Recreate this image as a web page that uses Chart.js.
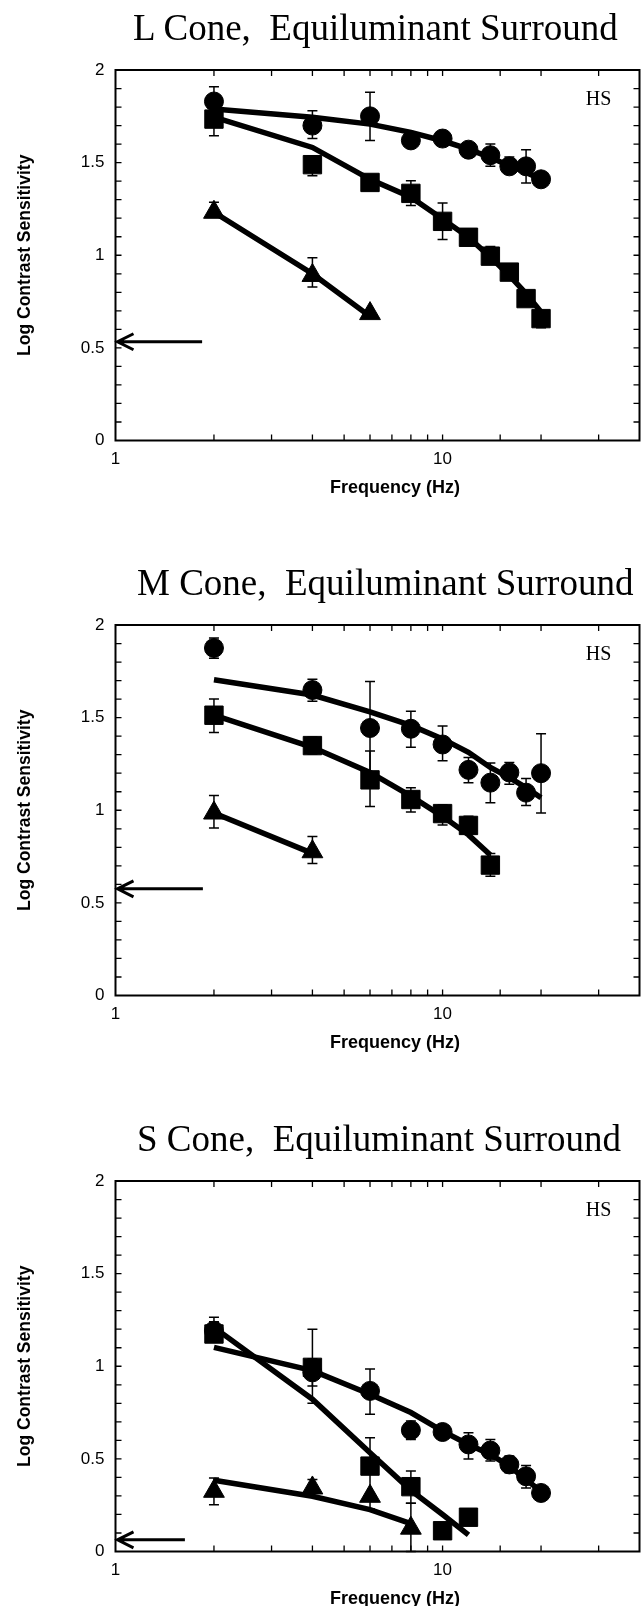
<!DOCTYPE html>
<html>
<head>
<meta charset="utf-8">
<script src="https://cdn.jsdelivr.net/npm/chart.js@4/dist/chart.umd.min.js"></script>
<style>
  body { margin: 0; background: #fff; width: 641px; height: 1606px; position: relative; overflow: hidden; }
  .panel { position: absolute; left: 0; width: 641px; height: 497px; }
  .ttl { position: absolute; top: 7px; white-space: pre;
         font-family: "Liberation Serif", "Times New Roman", serif; font-size: 37px; line-height: 42px; color: #000; }
  .xt { position: absolute; top: 477px; left: 395px; transform: translateX(-50%); white-space: pre;
        font-family: "Liberation Sans", Arial, sans-serif; font-weight: bold; font-size: 18px; line-height: 20px; color: #000; }
</style>
</head>
<body>
<div class="panel" style="top:0px">
  <div class="ttl" style="left:133px">L Cone,  Equiluminant Surround</div>
  <canvas id="cL" width="641" height="497"></canvas>
  <div class="xt">Frequency (Hz)</div>
</div>
<div class="panel" style="top:555px">
  <div class="ttl" style="left:137px">M Cone,  Equiluminant Surround</div>
  <canvas id="cM" width="641" height="497"></canvas>
  <div class="xt">Frequency (Hz)</div>
</div>
<div class="panel" style="top:1111px">
  <div class="ttl" style="left:137px">S Cone,  Equiluminant Surround</div>
  <canvas id="cS" width="641" height="497"></canvas>
  <div class="xt">Frequency (Hz)</div>
</div>
<script>
// 周波数 (Hz)
const FREQ = [2, 4, 6, 8, 10, 12, 14, 16, 18, 20];

// L cone
const L_CIRC     = [1.83, 1.70, 1.75, 1.62, 1.63, 1.57, 1.54, 1.48, 1.48, 1.41];
const L_CIRC_LO  = [1.77, 1.63, 1.62, 1.58, null, null, 1.48, 1.44, 1.39, null];
const L_CIRC_HI  = [1.91, 1.78, 1.88, 1.66, null, null, 1.60, 1.53, 1.57, null];
const L_CIRC_FIT = [1.79, 1.745, 1.708, 1.663, 1.618, 1.573, 1.528, 1.483, 1.447, 1.41];
const L_SQ       = [1.735, 1.489, 1.393, 1.334, 1.183, 1.097, 0.995, 0.909, 0.766, 0.658];
const L_SQ_LO    = [1.645, 1.429, null, 1.268, 1.085, null, null, null, null, 0.609];
const L_SQ_HI    = [null, 1.537, null, 1.402, 1.282, null, 1.047, null, null, null];
const L_SQ_FIT   = [1.745, 1.582, 1.41, 1.313, 1.196, 1.097, 0.99, 0.891, 0.793, 0.694];
const L_TRI_F    = [2, 4, 6];
const L_TRI      = [1.232, 0.891, 0.685];
const L_TRI_LO   = [null, 0.828, null];
const L_TRI_HI   = [1.286, 0.986, null];
const L_TRI_FIT  = [1.232, 0.90, 0.67];

// M cone
const M_CIRC     = [1.876, 1.649, 1.444, 1.44, 1.355, 1.218, 1.149, 1.204, 1.095, 1.20];
const M_CIRC_LO  = [1.82, 1.589, 1.185, 1.34, 1.267, 1.149, 1.04, 1.14, 1.025, 0.985];
const M_CIRC_HI  = [1.93, 1.707, 1.695, 1.535, 1.455, 1.285, 1.255, 1.258, 1.171, 1.413];
const M_CIRC_FIT = [1.704, 1.622, 1.531, 1.458, 1.385, 1.313, 1.231, 1.176, 1.122, 1.067];
const M_SQ_F     = [2, 4, 6, 8, 10, 12, 14];
const M_SQ       = [1.513, 1.349, 1.164, 1.058, 0.982, 0.918, 0.704];
const M_SQ_LO    = [1.42, 1.304, 1.02, 0.99, 0.92, null, 0.644];
const M_SQ_HI    = [1.60, 1.395, 1.32, 1.122, 1.03, 0.967, 0.767];
const M_SQ_FIT   = [1.513, 1.34, 1.204, 1.076, 0.967, 0.867, 0.758];
const M_TRI_F    = [2, 4];
const M_TRI      = [0.985, 0.776];
const M_TRI_LO   = [0.904, 0.713];
const M_TRI_HI   = [1.08, 0.858];
const M_TRI_FIT  = [0.985, 0.767];

// S cone
const S_CIRC     = [1.192, 0.967, 0.867, 0.655, 0.645, 0.578, 0.545, 0.47, 0.406, 0.316];
const S_CIRC_LO  = [1.138, 0.894, 0.741, 0.604, null, 0.50, 0.488, 0.425, 0.343, null];
const S_CIRC_HI  = [1.265, 1.04, 0.985, 0.705, null, 0.641, 0.605, 0.515, 0.464, null];
const S_CIRC_FIT = [1.102, 0.976, 0.849, 0.75, 0.65, 0.578, 0.524, 0.461, 0.388, 0.325];
const S_SQ_F     = [2, 4, 6, 8, 10, 12];
const S_SQ       = [1.174, 0.994, 0.461, 0.35, 0.112, 0.185];
const S_SQ_LO    = [null, 0.80, 0.316, 0.26, null, null];
const S_SQ_HI    = [1.24, 1.20, 0.614, 0.434, null, null];
const S_SQ_FIT   = [1.21, 0.822, 0.533, 0.33, 0.2, 0.09];
const S_TRI_F    = [2, 4, 6, 8];
const S_TRI      = [0.325, 0.343, 0.298, 0.126];
const S_TRI_LO   = [0.253, null, 0.23, 0.0];
const S_TRI_HI   = [0.397, 0.388, null, 0.26];
const S_TRI_FIT  = [0.385, 0.298, 0.226, 0.15];

// 左の矢印 [y値, 始点の周波数]
const L_ARROW = [0.533, 1.84];
const M_ARROW = [0.576, 1.85];
const S_ARROW = [0.063, 1.63];

const X_MIN = 1, X_MAX = 40, Y_MIN = 0, Y_MAX = 2;
const SANS = '"Liberation Sans", Arial, sans-serif';

function pts(xs, ys) {
  return xs.map((x, i) => ({x: x, y: ys[i]}));
}

// 枠・内向きの目盛・誤差棒・矢印・HS を描くプラグイン
const framePlugin = {
  id: 'frame',
  beforeDatasetsDraw(chart) {
    const {ctx, scales: {x, y}} = chart;
    ctx.save();
    ctx.strokeStyle = '#000';
    ctx.lineWidth = 1.5;
    chart.data.datasets.forEach(ds => {
      if (!ds.errHi) return;
      ds.data.forEach((p, i) => {
        const lo = ds.errLo[i], hi = ds.errHi[i];
        if (lo === null && hi === null) return;
        const px = x.getPixelForValue(p.x);
        ctx.beginPath();
        ctx.moveTo(px, y.getPixelForValue(hi === null ? p.y : hi));
        ctx.lineTo(px, y.getPixelForValue(lo === null ? p.y : lo));
        [lo, hi].forEach(v => {
          if (v === null) return;
          const py = y.getPixelForValue(v);
          ctx.moveTo(px - 5, py);
          ctx.lineTo(px + 5, py);
        });
        ctx.stroke();
      });
    });
    ctx.restore();
  },
  afterDraw(chart, args, opts) {
    const {ctx, chartArea: a, scales: {x, y}} = chart;
    ctx.save();
    ctx.strokeStyle = '#000';
    ctx.lineWidth = 1.3;
    ctx.beginPath();
    x.ticks.forEach(t => {
      if (t.value <= X_MIN || t.value >= X_MAX) return;
      const px = x.getPixelForValue(t.value);
      ctx.moveTo(px, a.top); ctx.lineTo(px, a.top + 6);
      ctx.moveTo(px, a.bottom); ctx.lineTo(px, a.bottom - 6);
    });
    y.ticks.forEach(t => {
      if (t.value <= Y_MIN + 0.01 || t.value >= Y_MAX - 0.01) return;
      const py = y.getPixelForValue(t.value);
      ctx.moveTo(a.left, py); ctx.lineTo(a.left + 6, py);
      ctx.moveTo(a.right, py); ctx.lineTo(a.right - 6, py);
    });
    ctx.stroke();
    // 枠
    ctx.lineWidth = 2;
    ctx.strokeRect(a.left, a.top, a.right - a.left, a.bottom - a.top);
    // 矢印
    const ay = y.getPixelForValue(opts.arrow[0]);
    const ax0 = x.getPixelForValue(opts.arrow[1]);
    const tip = a.left + 2;
    ctx.lineWidth = 3;
    ctx.beginPath();
    ctx.moveTo(ax0, ay); ctx.lineTo(tip, ay);
    ctx.moveTo(tip + 16, ay - 8); ctx.lineTo(tip, ay); ctx.lineTo(tip + 16, ay + 8);
    ctx.stroke();
    // HS
    ctx.fillStyle = '#000';
    ctx.font = '20px "Liberation Serif", "Times New Roman", serif';
    ctx.textAlign = 'center';
    ctx.textBaseline = 'middle';
    ctx.fillText('HS', x.getPixelForValue(30), y.getPixelForValue(1.84));
    ctx.restore();
  }
};

function markers(data, lo, hi, style, r) {
  return {
    type: 'scatter', data: data, errLo: lo, errHi: hi,
    pointStyle: style, pointRadius: r, pointHoverRadius: r,
    backgroundColor: '#000', borderColor: '#000', borderWidth: 1,
    showLine: false, order: 1
  };
}
function fitLine(data) {
  return {
    type: 'scatter', data: data, showLine: true, borderColor: '#000', borderWidth: 5.5,
    pointRadius: 0, pointHoverRadius: 0, fill: false, order: 2
  };
}

function makePanel(id, sets, arrow) {
  new Chart(document.getElementById(id), {
    type: 'scatter',
    data: {datasets: sets},
    options: {
      responsive: false, animation: false, devicePixelRatio: 1,
      layout: {autoPadding: false, padding: {top: 70, right: 1.5, left: 0, bottom: 0}},
      plugins: {legend: {display: false}, tooltip: {enabled: false}, frame: {arrow: arrow}},
      scales: {
        x: {
          type: 'logarithmic', min: X_MIN, max: X_MAX,
          grid: {display: false, drawTicks: false}, border: {display: false},
          afterFit: s => { s.height = 56.5; s.paddingLeft = 0; s.paddingRight = 0; },
          ticks: {
            autoSkip: false, maxRotation: 0, padding: 9, color: '#000',
            font: {family: SANS, size: 17},
            callback: v => (v === 1 || v === 10) ? String(v) : ''
          }
        },
        y: {
          min: Y_MIN, max: Y_MAX,
          grid: {display: false, drawTicks: false}, border: {display: false},
          afterFit: s => { s.width = 115.5; },
          ticks: {
            autoSkip: false, stepSize: 0.1, padding: 11, color: '#000',
            font: {family: SANS, size: 17},
            callback: v => { const t = Math.round(v * 10); return t % 5 === 0 ? String(t / 10) : ''; }
          },
          title: {
            display: true, text: 'Log Contrast Sensitivity', color: '#000',
            font: {family: SANS, size: 17.5, weight: 'bold'}, padding: {top: 15, bottom: 0}
          }
        }
      }
    },
    plugins: [framePlugin]
  });
}

makePanel('cL', [
  markers(pts(FREQ, L_CIRC), L_CIRC_LO, L_CIRC_HI, 'circle', 9.5),
  markers(pts(FREQ, L_SQ), L_SQ_LO, L_SQ_HI, 'rect', 13),
  markers(pts(L_TRI_F, L_TRI), L_TRI_LO, L_TRI_HI, 'triangle', 12),
  fitLine(pts(FREQ, L_CIRC_FIT)),
  fitLine(pts(FREQ, L_SQ_FIT)),
  fitLine(pts(L_TRI_F, L_TRI_FIT))
], L_ARROW);

makePanel('cM', [
  markers(pts(FREQ, M_CIRC), M_CIRC_LO, M_CIRC_HI, 'circle', 9.5),
  markers(pts(M_SQ_F, M_SQ), M_SQ_LO, M_SQ_HI, 'rect', 13),
  markers(pts(M_TRI_F, M_TRI), M_TRI_LO, M_TRI_HI, 'triangle', 12),
  fitLine(pts(FREQ, M_CIRC_FIT)),
  fitLine(pts(M_SQ_F, M_SQ_FIT)),
  fitLine(pts(M_TRI_F, M_TRI_FIT))
], M_ARROW);

makePanel('cS', [
  markers(pts(FREQ, S_CIRC), S_CIRC_LO, S_CIRC_HI, 'circle', 9.5),
  markers(pts(S_SQ_F, S_SQ), S_SQ_LO, S_SQ_HI, 'rect', 13),
  markers(pts(S_TRI_F, S_TRI), S_TRI_LO, S_TRI_HI, 'triangle', 12),
  fitLine(pts(FREQ, S_CIRC_FIT)),
  fitLine(pts(S_SQ_F, S_SQ_FIT)),
  fitLine(pts(S_TRI_F, S_TRI_FIT))
], S_ARROW);
</script>
</body>
</html>
